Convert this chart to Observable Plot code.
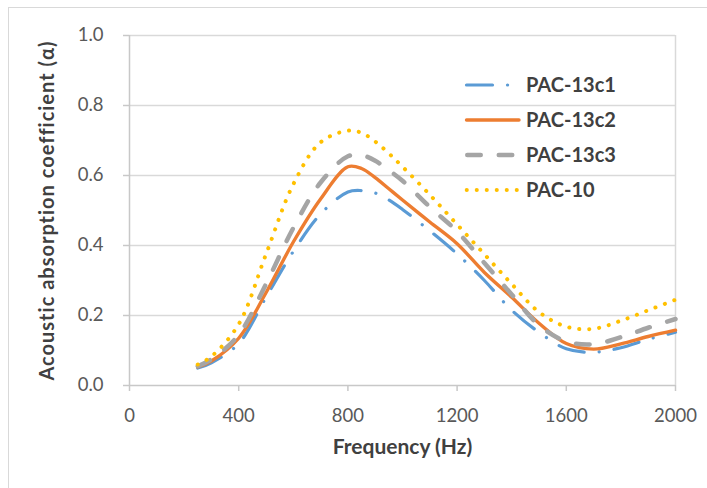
<!DOCTYPE html>
<html><head><meta charset="utf-8">
<script src="https://cdn.jsdelivr.net/npm/d3@7"></script>
<script src="https://cdn.jsdelivr.net/npm/@observablehq/plot@0.6"></script>
<style>
html,body{margin:0;padding:0;background:#fff;overflow:hidden;width:707px;height:488px;}
#frame{position:absolute;left:8px;top:7px;width:780px;height:580px;border:1.5px solid #d9d9d9;}
#chart{position:absolute;left:0;top:0;}
</style></head><body>
<div id="frame"></div>
<div id="chart"></div>
<script>
const freq = [250,300,400,500,600,700,800,850,900,950,1000,1100,1200,1300,1400,1500,1600,1700,1800,1900,2000];
const pac13c1 = [0.050,0.065,0.120,0.252,0.383,0.490,0.553,0.557,0.550,0.530,0.503,0.442,0.376,0.300,0.215,0.152,0.105,0.095,0.108,0.132,0.152];
const pac13c2 = [0.053,0.070,0.135,0.265,0.410,0.533,0.625,0.620,0.594,0.562,0.530,0.467,0.405,0.323,0.252,0.178,0.120,0.104,0.119,0.140,0.158];
const pac13c3 = [0.055,0.075,0.145,0.290,0.450,0.580,0.655,0.658,0.642,0.615,0.585,0.510,0.440,0.350,0.260,0.172,0.126,0.118,0.138,0.165,0.190];
const pac10   = [0.060,0.083,0.175,0.375,0.575,0.695,0.728,0.722,0.697,0.663,0.625,0.545,0.460,0.375,0.290,0.210,0.168,0.162,0.185,0.215,0.245];
const seriesNames = ["PAC-13c1","PAC-13c2","PAC-13c3","PAC-10"];
const seriesValues = [pac13c1,pac13c2,pac13c3,pac10];
const xTicks = [0,400,800,1200,1600,2000];
const yTicks = [0,0.2,0.4,0.6,0.8,1.0];
const xTitle = "Frequency (Hz)";
const yTitle = "Acoustic absorption coefficient (α)";

const styles = [
  {stroke:"#5B9BD5", strokeWidth:3.2, strokeDasharray:"26,15,0.1,15", strokeLinecap:"round"},
  {stroke:"#ED7D31", strokeWidth:3.4, strokeDasharray:null, strokeLinecap:"round"},
  {stroke:"#A5A5A5", strokeWidth:4.5, strokeDasharray:"13.5,18", strokeLinecap:"round"},
  {stroke:"#FFC000", strokeWidth:4, strokeDasharray:"0.1,9.9", strokeLinecap:"round"}
];

const rows = seriesNames.flatMap((name,i)=>freq.map((f,j)=>({series:name,f,a:seriesValues[i][j]})));

const lineMarks = seriesNames.map((name,i)=>Plot.line(rows.filter(r=>r.series===name),{
  x:"f", y:"a", curve:"catmull-rom", ...Object.fromEntries(Object.entries(styles[i]).filter(([k,v])=>v!=null))
}));

const plot = Plot.plot({
  width:707, height:488,
  marginLeft:129, marginRight:32, marginTop:35, marginBottom:103,
  style:{fontFamily:"Lato, 'Open Sans', sans-serif", background:"transparent"},
  x:{domain:[xTicks[0], xTicks[xTicks.length-1]]},
  y:{domain:[yTicks[0], yTicks[yTicks.length-1]]},
  marks:[
    Plot.gridY(yTicks.slice(1),{stroke:"#d9d9d9", strokeOpacity:1, strokeWidth:1.5}),
    Plot.ruleX([xTicks[xTicks.length-1]],{y1:yTicks[0], y2:yTicks[yTicks.length-1], stroke:"#d9d9d9", strokeWidth:1.5}),
    Plot.ruleX([xTicks[0]],{stroke:"#c8c8c8", strokeWidth:1.5}),
    Plot.ruleY([yTicks[0]],{stroke:"#c8c8c8", strokeWidth:1.5}),
    Plot.axisY(yTicks,{tickFormat:d3.format(".1f"), tickSize:6, tickPadding:20, fontSize:18.5, fill:"#595959", stroke:"#c8c8c8", strokeWidth:1.5, label:null}),
    Plot.axisX(xTicks,{tickFormat:d=>String(d), tickSize:6, tickPadding:17, fontSize:18.5, fill:"#595959", stroke:"#c8c8c8", strokeWidth:1.5, label:null}),
    ...lineMarks,
    Plot.text([xTitle],{text:d=>d, frameAnchor:"bottom", dy:68, fontSize:21, fontWeight:"bold", fill:"#404040"}),
    Plot.text([yTitle],{text:d=>d, frameAnchor:"left", textAnchor:"middle", dx:-82, rotate:-90, fontSize:20, fontWeight:"bold", fill:"#404040"})
  ]
});
document.getElementById("chart").appendChild(plot);

// slightly wider tracking on the rotated axis title, as in the reference
d3.select(plot).selectAll("text").filter(function(){ return this.textContent === yTitle; })
  .attr("letter-spacing", "1px");

// legend
const svg = d3.select(plot);
const lg = svg.append("g");
const legY = [85,120,155,190];
seriesNames.forEach((name,i)=>{
  const s = styles[i];
  const x0 = i===2 ? 467.25 : (i===3 ? 466.7 : 466.5);
  const l = lg.append("line").attr("x1",x0).attr("x2",519).attr("y1",legY[i]).attr("y2",legY[i])
    .attr("stroke",s.stroke).attr("stroke-width",s.strokeWidth).attr("stroke-linecap",s.strokeLinecap);
  if (s.strokeDasharray) l.attr("stroke-dasharray",s.strokeDasharray);
  lg.append("text").attr("x",526).attr("y",legY[i]).attr("dy","0.36em").attr("text-anchor","start")
    .attr("font-family","Lato, 'Open Sans', sans-serif").attr("font-size",20).attr("font-weight","bold")
    .attr("fill","#404040").text(name);
});
</script>
</body></html>
